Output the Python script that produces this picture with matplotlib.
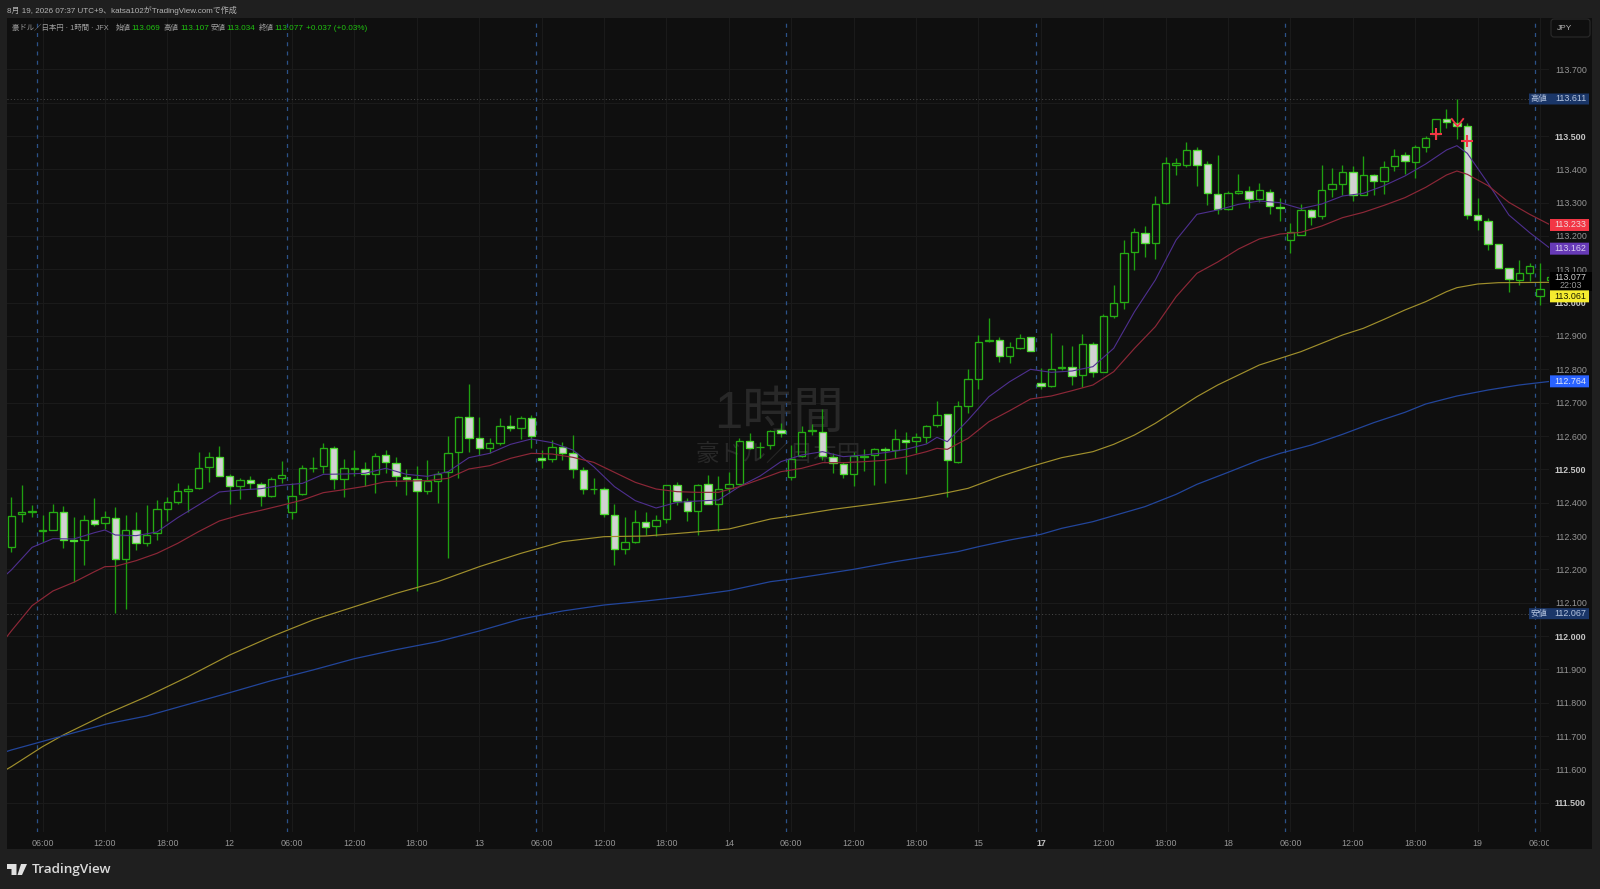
import numpy as np
import matplotlib
matplotlib.use('Agg')
import matplotlib.pyplot as plt
from matplotlib.patches import Rectangle, FancyBboxPatch, PathPatch
from matplotlib.path import Path
from matplotlib.transforms import Bbox, IdentityTransform, blended_transform_factory

plt.rcParams['font.family'] = ['Liberation Sans', 'Noto Sans CJK JP', 'DejaVu Sans']

# hourly candles, bar 0 is 03:00 on the 11th
opens = [112.266,112.365,112.373,112.314,112.318,112.371,112.288,112.287,112.347,112.338,
         112.355,112.230,112.317,112.278,112.309,112.382,112.402,112.434,112.444,112.506,
         112.536,112.479,112.451,112.468,112.457,112.419,112.474,112.372,112.426,112.503,
         112.509,112.564,112.471,112.502,112.501,112.487,112.542,112.520,112.478,112.472,
         112.436,112.464,112.491,112.551,112.656,112.594,112.565,112.580,112.630,112.624,
         112.654,112.534,112.532,112.566,112.548,112.497,112.440,112.442,112.364,112.261,
         112.281,112.342,112.331,112.351,112.454,112.406,112.374,112.455,112.396,112.443,
         112.457,112.585,112.566,112.572,112.617,112.478,112.539,112.614,112.612,112.536,
         112.517,112.487,112.538,112.542,112.560,112.557,112.589,112.584,112.596,112.632,
         112.666,112.522,112.690,112.771,112.886,112.889,112.841,112.865,112.897,112.760,
         112.749,112.805,112.808,112.782,112.875,112.793,112.960,113.001,113.151,113.210,
         113.178,113.298,113.414,113.414,113.458,113.416,113.327,113.280,113.330,113.336,
         113.310,113.333,113.288,113.189,113.203,113.278,113.260,113.341,113.357,113.392,
         113.324,113.383,113.364,113.409,113.442,113.423,113.467,113.507,113.550,113.538,
         113.531,113.262,113.245,113.175,113.104,113.068,113.090,113.020,113.069]
highs = [112.416,112.453,112.392,112.363,112.396,112.390,112.356,112.364,112.414,112.374,
         112.387,112.362,112.371,112.393,112.407,112.417,112.460,112.453,112.551,112.551,
         112.570,112.486,112.473,112.481,112.463,112.478,112.524,112.458,112.512,112.536,
         112.578,112.570,112.531,112.558,112.521,112.548,112.558,112.538,112.500,112.510,
         112.527,112.494,112.601,112.659,112.756,112.656,112.593,112.653,112.663,112.661,
         112.663,112.558,112.588,112.581,112.603,112.506,112.474,112.448,112.395,112.357,
         112.378,112.371,112.363,112.454,112.461,112.413,112.456,112.483,112.479,112.491,
         112.593,112.608,112.581,112.618,112.638,112.573,112.630,112.635,112.681,112.548,
         112.523,112.553,112.561,112.564,112.568,112.620,112.612,112.608,112.633,112.705,
         112.666,112.705,112.800,112.903,112.953,112.896,112.883,112.906,112.897,112.803,
         112.908,112.872,112.870,112.905,112.883,112.965,113.053,113.188,113.224,113.231,
         113.319,113.436,113.435,113.482,113.466,113.424,113.443,113.336,113.385,113.349,
         113.359,113.341,113.313,113.240,113.296,113.280,113.413,113.403,113.413,113.410,
         113.441,113.386,113.426,113.461,113.453,113.473,113.500,113.551,113.581,113.611,
         113.538,113.313,113.254,113.175,113.104,113.128,113.118,113.118,113.107]
lows = [112.251,112.343,112.358,112.281,112.318,112.263,112.161,112.213,112.331,112.320,
        112.068,112.080,112.258,112.271,112.288,112.345,112.396,112.373,112.442,112.461,
        112.479,112.396,112.411,112.441,112.390,112.418,112.458,112.350,112.423,112.493,
        112.488,112.441,112.418,112.480,112.450,112.428,112.488,112.450,112.423,112.135,
        112.426,112.398,112.235,112.473,112.553,112.543,112.548,112.573,112.614,112.591,
        112.565,112.505,112.523,112.528,112.473,112.425,112.426,112.358,112.214,112.246,
        112.278,112.304,112.300,112.340,112.394,112.344,112.304,112.395,112.314,112.430,
        112.452,112.561,112.534,112.562,112.597,112.468,112.538,112.604,112.528,112.488,
        112.473,112.451,112.496,112.454,112.460,112.535,112.485,112.548,112.578,112.626,
        112.418,112.520,112.670,112.740,112.881,112.823,112.820,112.860,112.854,112.741,
        112.748,112.798,112.753,112.746,112.776,112.791,112.953,112.980,113.098,113.138,
        113.131,113.296,113.384,113.406,113.351,113.293,113.265,113.278,113.326,113.285,
        113.301,113.266,113.246,113.150,113.202,113.233,113.252,113.317,113.323,113.306,
        113.323,113.322,113.327,113.395,113.386,113.375,113.451,113.490,113.525,113.491,
        113.250,113.218,113.158,113.105,113.033,113.053,113.066,112.992,113.034]
closes = [112.361,112.373,112.376,112.319,112.372,112.289,112.284,112.347,112.336,112.357,
          112.231,112.317,112.279,112.304,112.382,112.402,112.435,112.442,112.505,112.537,
          112.479,112.449,112.468,112.458,112.419,112.470,112.484,112.420,112.505,112.505,
          112.564,112.471,112.505,112.505,112.486,112.541,112.521,112.480,112.472,112.434,
          112.464,112.487,112.548,112.656,112.595,112.565,112.578,112.629,112.623,112.655,
          112.601,112.529,112.568,112.548,112.500,112.441,112.442,112.367,112.262,112.281,
          112.341,112.328,112.349,112.454,112.406,112.374,112.454,112.395,112.442,112.456,
          112.584,112.564,112.568,112.616,112.608,112.530,112.611,112.618,112.541,112.520,
          112.486,112.540,112.540,112.562,112.557,112.590,112.583,112.597,112.630,112.664,
          112.528,112.691,112.770,112.881,112.888,112.839,112.868,112.895,112.855,112.751,
          112.802,112.808,112.780,112.875,112.791,112.960,112.998,113.150,113.211,113.180,
          113.296,113.418,113.418,113.459,113.412,113.328,113.280,113.328,113.335,113.312,
          113.337,113.289,113.284,113.211,113.278,113.257,113.339,113.357,113.391,113.323,
          113.384,113.365,113.407,113.440,113.426,113.467,113.495,113.551,113.543,113.530,
          113.264,113.247,113.175,113.105,113.070,113.090,113.109,113.040,113.077]

# moving averages, one value per bar from bar -1 on
ma_purple = [112.170,112.198,112.228,112.266,112.275,112.292,112.292,112.291,112.303,112.310,112.318,
             112.303,112.303,112.301,112.302,112.312,112.338,112.355,112.370,112.393,112.420,
             112.432,112.434,112.438,112.442,112.442,112.446,112.452,112.448,112.458,112.466,
             112.485,112.483,112.486,112.490,112.488,112.498,112.503,112.500,112.485,112.482,
             112.479,112.483,112.493,112.518,112.535,112.541,112.548,112.563,112.575,112.590,
             112.591,112.582,112.580,112.573,112.558,112.536,112.508,112.473,112.448,112.420,
             112.406,112.391,112.384,112.398,112.401,112.405,112.405,112.406,112.408,112.421,
             112.448,112.463,112.480,112.500,112.523,112.533,112.543,112.558,112.553,112.543,
             112.538,112.538,112.543,112.545,112.550,112.557,112.560,112.566,112.576,112.596,
             112.583,112.603,112.648,112.683,112.718,112.740,112.763,112.788,112.800,112.791,
             112.791,112.795,112.795,112.808,112.808,112.830,112.863,112.923,112.973,113.011,
             113.068,113.136,113.188,113.233,113.265,113.275,113.278,113.288,113.295,113.298,
             113.305,113.305,113.300,113.283,113.282,113.280,113.296,113.308,113.320,113.320,
             113.328,113.336,113.351,113.368,113.380,113.395,113.416,113.441,113.458,113.471,
             113.448,113.403,113.358,113.308,113.263,113.233,113.210,113.183,113.162]
ma_red = [111.975,112.015,112.058,112.091,112.111,112.135,112.148,112.161,112.178,112.193,112.208,
          112.209,112.221,112.226,112.233,112.248,112.263,112.278,112.292,112.313,112.333,
          112.345,112.354,112.363,112.371,112.377,112.383,112.392,112.398,112.408,112.415,
          112.430,112.434,112.439,112.445,112.449,112.457,112.463,112.466,112.465,112.465,
          112.466,112.468,112.473,112.493,112.501,112.506,112.511,112.523,112.533,112.544,
          112.548,112.548,112.546,112.543,112.536,112.528,112.521,112.511,112.491,112.471,
          112.461,112.451,112.441,112.438,112.433,112.432,112.431,112.431,112.431,112.436,
          112.448,112.460,112.470,112.483,112.493,112.496,112.503,112.518,112.520,112.520,
          112.520,112.522,112.523,112.525,112.527,112.533,112.537,112.543,112.553,112.563,
          112.560,112.573,112.593,112.618,112.643,112.660,112.676,112.693,112.711,112.714,
          112.720,112.728,112.736,112.748,112.753,112.773,112.793,112.833,112.863,112.890,
          112.928,112.978,113.018,113.053,113.088,113.108,113.122,113.143,113.161,113.176,
          113.191,113.200,113.206,113.207,113.211,113.217,113.230,113.243,113.255,113.260,
          113.271,113.280,113.292,113.303,113.315,113.328,113.346,113.368,113.383,113.395,
          113.385,113.370,113.351,113.325,113.301,113.283,113.265,113.246,113.233]
yellow_bars = [-1,0,3,5,9,13,17,21,25,29,33,37,41,45,49,53,57,61,65,69,73,75,79,83,87,90,92,95,98,101,
               104,106,108,110,112,114,116,118,120,122,124,126,128,130,132,134,136,138,139,141,143,148]
ma_yellow = [111.590,111.608,111.668,111.703,111.764,111.818,111.878,111.943,111.998,112.048,112.088,
             112.128,112.163,112.208,112.248,112.283,112.298,112.300,112.310,112.321,112.351,112.360,
             112.380,112.396,112.413,112.430,112.443,112.478,112.508,112.535,112.553,112.575,112.603,
             112.638,112.678,112.718,112.753,112.783,112.813,112.833,112.853,112.878,112.903,112.923,
             112.950,112.978,113.003,113.033,113.045,113.056,113.060,113.061]
blue_bars = [-1,0,5,9,13,17,21,25,29,33,37,41,45,49,53,57,61,65,69,73,75,81,85,89,91,93,96,99,101,104,
             106,109,112,114,117,120,122,125,128,131,134,136,139,142,145,148]
ma_blue = [111.648,111.658,111.701,111.735,111.760,111.795,111.830,111.866,111.898,111.932,111.959,
           111.983,112.015,112.051,112.075,112.093,112.105,112.119,112.136,112.163,112.171,112.200,
           112.223,112.243,112.253,112.268,112.288,112.305,112.323,112.343,112.361,112.388,112.425,
           112.455,112.491,112.528,112.548,112.573,112.605,112.640,112.671,112.696,112.720,112.738,
           112.753,112.764]

session_breaks = [2.5, 26.5, 50.5, 74.5, 98.5, 122.5, 146.5]
time_bars = [3,9,15,21,27,33,39,45,51,57,63,69,75,81,87,93,99,105,111,117,123,129,135,141,147]
time_labels = ['06:00','12:00','18:00','12','06:00','12:00','18:00','13','06:00','12:00','18:00','14',
               '06:00','12:00','18:00','15','17','12:00','18:00','18','06:00','12:00','18:00','19','06:00']
price_ticks = [111.5,111.6,111.7,111.8,111.9,112.0,112.1,112.2,112.3,112.4,112.5,112.6,
               112.7,112.8,112.9,113.0,113.1,113.2,113.3,113.4,113.5,113.6,113.7]
strong_ticks = [111.5, 112.0, 112.5, 113.0, 113.5]
hidden_ticks = [113.6]  # sits behind the high label
high_price, low_price = 113.611, 112.067

W, H = 1600, 889
BG = '#1f1f1f'
PANEL = '#0f0f0f'
GRID = '#1a1a1a'
WICK = '#1f9f10'
EDGE_UP = '#26ac14'
EDGE_DN = '#4fdc33'
FILL_DN = '#d2d2d2'
TXT = '#959595'
GREEN = '#20c20f'


def txt(x, y, s, **kw):
    kw.setdefault('fontsize', 6)
    kw.setdefault('color', '#a8a8a8')
    kw.setdefault('va', 'center')
    return fig.text(x / W, 1 - y / H, s, **kw)


fig = plt.figure(figsize=(W / 100, H / 100), dpi=100, facecolor=BG)
fig.patches.append(Rectangle((7 / W, 1 - 849 / H), 1585 / W, 831 / H, transform=fig.transFigure,
                             facecolor=PANEL, edgecolor='none', zorder=-1))
fig.patches[-1].set_figure(fig)

ax = fig.add_axes([7 / W, 1 - 832 / H, 1542 / W, 814 / H], facecolor=PANEL)
ax.set_xlim((7 - 11.3) / 10.4, (1549 - 11.3) / 10.4)
ax.set_ylim(113.5 - (832 - 136) * 0.003, 113.5 + (136 - 18) * 0.003)
for s in ax.spines.values():
    s.set_visible(False)

ax.set_axisbelow(True)
ax.grid(True, color=GRID, linewidth=0.8)
ax.set_xticks(time_bars)
ax.set_xticklabels(time_labels)
ax.set_yticks(price_ticks)
ax.set_yticklabels(['' if p in hidden_ticks else '%.3f' % p for p in price_ticks])
ax.yaxis.tick_right()
ax.tick_params(axis='both', length=0, labelsize=6.4, labelcolor=TXT)
ax.tick_params(axis='x', pad=5)
ax.tick_params(axis='y', pad=4.2)
for lab, p in zip(ax.get_yticklabels(), price_ticks):
    if p in strong_ticks:
        lab.set_fontweight('bold')
        lab.set_color('#c4c4c4')
for lab, t in zip(ax.get_xticklabels(), time_labels):
    if t == '17':
        lab.set_fontweight('bold')
        lab.set_color('#c4c4c4')
    lab.set_clip_box(Bbox([[0, 0], [1549, H]]))
    lab.set_clip_on(True)

# watermark sits under the candles
ax.text(0.5005, 0.5135, '1時間', transform=ax.transAxes, ha='center', va='center', fontsize=36.5,
        color='#282828', zorder=1)
ax.text(0.5005, 0.4625, '豪ドル／日本円', transform=ax.transAxes, ha='center', va='center', fontsize=17,
        color='#282828', zorder=1)

ax.vlines(session_breaks, *ax.get_ylim(), colors='#2c5288', linewidth=0.9,
          linestyles=(0, (3.2, 4.2)), zorder=1.5)
ax.axhline(high_price, color='#4a4a4a', linewidth=0.7, linestyle=(0, (1, 2.4)), zorder=1.5)
ax.axhline(low_price, color='#4a4a4a', linewidth=0.7, linestyle=(0, (1, 2.4)), zorder=1.5)

o = np.array(opens)
h = np.array(highs)
l = np.array(lows)
c = np.array(closes)
x = np.arange(len(o))
top = np.maximum(o, c)
bot = np.minimum(o, c)
up = c >= o

ax.vlines(x, top, h, colors=WICK, linewidth=0.95, zorder=2)
ax.vlines(x, l, bot, colors=WICK, linewidth=0.95, zorder=2)
ax.bar(x[up], (top - bot)[up], bottom=bot[up], width=0.7, facecolor='none', edgecolor=EDGE_UP,
       linewidth=0.95, zorder=3)
ax.bar(x[~up], (top - bot)[~up], bottom=bot[~up], width=0.7, facecolor=FILL_DN, edgecolor=EDGE_DN,
       linewidth=0.95, zorder=3)

# short lines use every other reading plus their turning bars, like the source's coarse polylines
ma_x = np.arange(-1, len(ma_purple) - 1)
keep = sorted(set([0] + list(range(1, len(ma_x), 2)) + [b + 1 for b in (9, 89, 139)]))
ax.plot(ma_x[keep], np.array(ma_purple)[keep], color='#4e2f8f', linewidth=0.8, zorder=4)
ax.plot(ma_x[keep], np.array(ma_red)[keep], color='#8c2737', linewidth=0.85, zorder=4)
ax.plot(yellow_bars, ma_yellow, color='#a08f2c', linewidth=0.85, zorder=4)
ax.plot(blue_bars, ma_blue, color='#22459a', linewidth=0.9, zorder=4)

# signal marks near the top
ax.plot([137, 140], [113.506, 113.485], linestyle='none', marker='+', markersize=8, markeredgewidth=1.5,
        color='#f23645', zorder=5)
ax.plot([139], [113.535], linestyle='none', marker=Path([(-1, 1), (0, -0.3), (1, 1)]), markersize=9,
        markerfacecolor='none', markeredgewidth=1.3, color='#f23645', zorder=5)

# price scale labels: x in pixels, y in prices
tr = blended_transform_factory(IdentityTransform(), ax.transData)


def price_box(x0, x1, price, color, label, text_color, dy=0.0165):
    ax.add_patch(FancyBboxPatch((x0, price - dy), x1 - x0, 2 * dy, transform=tr, clip_on=False,
                                boxstyle='round,pad=0,rounding_size=0', facecolor=color,
                                edgecolor='none', zorder=6))
    ax.text(1570.5, price, label, transform=tr, ha='center', va='center', fontsize=6.4, color=text_color,
            clip_on=False, zorder=7)


price_box(1529, 1589, high_price, '#1a3668', '113.611', '#b7c6e0')
ax.text(1539, high_price, '高値', transform=tr, ha='center', va='center', fontsize=6, color='#b7c6e0', zorder=7)
price_box(1529, 1589, low_price, '#1a3668', '112.067', '#b7c6e0')
ax.text(1539, low_price, '安値', transform=tr, ha='center', va='center', fontsize=6, color='#b7c6e0', zorder=7)
price_box(1550, 1589, 113.233, '#f23645', '113.233', '#f0d8da', dy=0.018)
price_box(1550, 1589, 113.162, '#673ab7', '113.162', '#d9cdf0', dy=0.018)
price_box(1550, 1589, 112.764, '#2962ff', '112.764', '#dfe6f7', dy=0.018)
ax.add_patch(Rectangle((1550, 113.035), 42, 0.057, transform=tr, clip_on=False, facecolor='#000000',
                       edgecolor='none', zorder=6))
ax.text(1570.5, 113.077, '113.077', transform=tr, ha='center', va='center', fontsize=6.4, color='#d0d0d0',
        zorder=7)
ax.text(1570.5, 113.05, '22:03', transform=tr, ha='center', va='center', fontsize=6.4, color='#9a9a9a', zorder=7)
price_box(1550, 1589, 113.061 - 0.042, '#f5ec2f', '113.061', '#1a1a00', dy=0.018)

# header
txt(7, 10.5, '8月 19, 2026 07:37 UTC+9、katsa102がTradingView.comで作成', color='#b4b4b4', fontsize=5.75)
txt(12, 28, '豪ドル／日本円 · 1時間 · JFX', color='#a0a0a0', fontsize=5.35)
for lx, vx, name, val in [(116, 131.5, '始値', '113.069'), (164, 180, '高値', '113.107'),
                          (211, 226, '安値', '113.034'), (259, 274, '終値', '113.077')]:
    txt(lx, 28, name, color='#a0a0a0', fontsize=5.4)
    txt(vx, 28, val, color=GREEN, fontsize=5.9)
txt(306, 28, '+0.037 (+0.03%)', color=GREEN, fontsize=5.9)

# JPY button
fig.patches.append(FancyBboxPatch((1551, H - 37), 39, 18, transform=IdentityTransform(),
                                  boxstyle='round,pad=0,rounding_size=3', facecolor=PANEL,
                                  edgecolor='#2a2a2a', linewidth=0.8, zorder=3))
fig.patches[-1].set_figure(fig)
txt(1565, 28.5, 'JPY', color='#b0b0b0', ha='center')

# footer logo
logo = Path([(7, H - 864), (16.5, H - 864), (16.5, H - 875), (11.5, H - 875), (11.5, H - 869), (7, H - 869), (7, H - 864),
             (21, H - 864), (27, H - 864), (22, H - 875), (17.5, H - 875), (21, H - 864)],
            [Path.MOVETO, Path.LINETO, Path.LINETO, Path.LINETO, Path.LINETO, Path.LINETO, Path.CLOSEPOLY,
             Path.MOVETO, Path.LINETO, Path.LINETO, Path.LINETO, Path.CLOSEPOLY])
fig.patches.append(PathPatch(logo, transform=IdentityTransform(), facecolor='#e0e0e0', edgecolor='none', zorder=3))
fig.patches[-1].set_figure(fig)
txt(31.5, 870, 'TradingView', color='#dcdcdc', fontsize=9.7, fontfamily='Open Sans', fontweight='semibold')

fig.savefig('out.png', dpi=100, facecolor=BG)
